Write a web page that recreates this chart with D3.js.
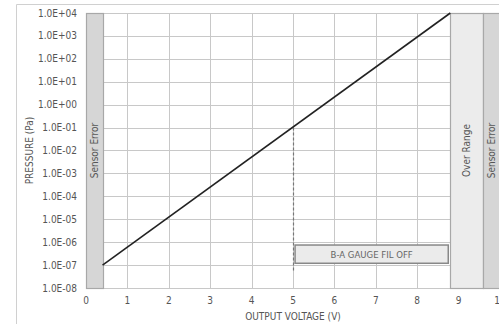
<!DOCTYPE html>
<html><head><meta charset="utf-8">
<script src="https://cdn.jsdelivr.net/npm/d3@7"></script>
<style>
html,body{margin:0;padding:0;background:#fff;}
svg{display:block;}
.nf{font-family:"Liberation Sans Narrow","DejaVu Sans Condensed","Arial Narrow",sans-serif;}
.bf{font-family:"DejaVu Sans Condensed","Liberation Sans Narrow",sans-serif;}
</style></head>
<body><svg id="c" width="499" height="324"></svg>
<script>
// ---- data ----
const yTicks = [1e4,1e3,1e2,1e1,1e0,1e-1,1e-2,1e-3,1e-4,1e-5,1e-6,1e-7,1e-8];
const yTickLabels = ["1.0E+04","1.0E+03","1.0E+02","1.0E+01","1.0E+00","1.0E-01","1.0E-02","1.0E-03","1.0E-04","1.0E-05","1.0E-06","1.0E-07","1.0E-08"];
const xTicks = [0,1,2,3,4,5,6,7,8,9,10];
const lineVolts = [0.4, 8.8];
const linePressure = [1e-7, 1e4];
const bandNames = ["Sensor Error","Over Range","Sensor Error"];
const bandStart = [0, 8.8, 9.6];
const bandEnd = [0.4, 9.6, 10];
const bandFill = ["#d6d6d6","#ececec","#d6d6d6"];
const markerVolt = 5;
const markerPressure = [1e-1, 5e-8];
const noteText = "B-A GAUGE FIL OFF";
const noteVolts = [5.05, 8.75];
const notePressure = [7.5e-7, 1.2e-7];

const svg = d3.select("#c");
const x = d3.scaleLinear().domain([0,10]).range([86, 500]);
const y = d3.scaleLog().domain([1e-8,1e4]).range([288, 13]);

// outer frame
svg.append("line").attr("x1",16.5).attr("x2",499).attr("y1",4.5).attr("y2",4.5).attr("stroke","#d0d0d0");
svg.append("line").attr("x1",16.5).attr("x2",16.5).attr("y1",4.5).attr("y2",324).attr("stroke","#d0d0d0");

// plot background
svg.append("rect").attr("x",x(0)).attr("y",y(1e4)).attr("width",x(10)-x(0)).attr("height",y(1e-8)-y(1e4)).attr("fill","#fff");

// grid
const g = svg.append("g");
g.selectAll(".hg").data(yTicks).enter().append("line")
  .attr("x1",x(0)).attr("x2",x(10)).attr("y1",d=>Math.round(y(d))+0.5).attr("y2",d=>Math.round(y(d))+0.5)
  .attr("stroke","#c8c8c8");
g.selectAll(".vg").data(xTicks).enter().append("line")
  .attr("x1",d=>Math.round(x(d))+0.5).attr("x2",d=>Math.round(x(d))+0.5).attr("y1",y(1e4)).attr("y2",y(1e-8))
  .attr("stroke","#c8c8c8");

// bands
const bands = bandNames.map((n,i)=>({n, s:bandStart[i], e:bandEnd[i], f:bandFill[i]}));
const bg = svg.selectAll(".band").data(bands).enter().append("g");
bg.append("rect").attr("x",d=>Math.round(x(d.s))+0.5).attr("y",Math.round(y(1e4))+0.5)
  .attr("width",d=>Math.round(x(d.e))-Math.round(x(d.s))).attr("height",Math.round(y(1e-8))-Math.round(y(1e4)))
  .attr("fill",d=>d.f).attr("stroke","#a8a8a8").attr("stroke-width",1.2);
bg.append("text").attr("class","bf")
  .attr("transform",d=>`translate(${(x(d.s)+Math.min(x(d.e),499))/2+3.5},${(y(1e4)+y(1e-8))/2}) rotate(-90)`)
  .attr("text-anchor","middle").attr("font-size",10).attr("fill","#555").text(d=>d.n);

// axes labels
svg.selectAll(".yl").data(yTicks).enter().append("text").attr("class","nf")
  .attr("x",77).attr("y",d=>y(d)+3.5).attr("text-anchor","end").attr("font-size",10).attr("fill","#555")
  .text((d,i)=>yTickLabels[i]);
svg.selectAll(".xl").data(xTicks).enter().append("text").attr("class","nf")
  .attr("x",d=>x(d)).attr("y",304).attr("text-anchor","middle").attr("font-size",10).attr("fill","#555")
  .text(d=>d);
svg.append("text").attr("class","nf").attr("x",x(5)).attr("y",320).attr("text-anchor","middle")
  .attr("font-size",10).attr("fill","#555").text("OUTPUT VOLTAGE (V)");
svg.append("text").attr("class","nf").attr("transform",`translate(33,${(y(1e4)+y(1e-8))/2}) rotate(-90)`)
  .attr("text-anchor","middle").attr("font-size",10).attr("fill","#555").text("PRESSURE (Pa)");

// marker dashed line
svg.append("line").attr("x1",Math.round(x(markerVolt))+0.5).attr("x2",Math.round(x(markerVolt))+0.5)
  .attr("y1",y(markerPressure[0])).attr("y2",y(markerPressure[1]))
  .attr("stroke","#777").attr("stroke-width",1.2).attr("stroke-dasharray","3,2");

// note box
svg.append("rect").attr("x",x(noteVolts[0])).attr("y",y(notePressure[0]))
  .attr("width",x(noteVolts[1])-x(noteVolts[0])).attr("height",y(notePressure[1])-y(notePressure[0]))
  .attr("fill","#ebebeb").attr("stroke","#888").attr("stroke-width",1.5);
svg.append("text").attr("class","nf").attr("x",(x(noteVolts[0])+x(noteVolts[1]))/2)
  .attr("y",(y(notePressure[0])+y(notePressure[1]))/2+3.5).attr("text-anchor","middle")
  .attr("font-size",9.5).attr("fill","#666").text(noteText);

// main line
const pts = lineVolts.map((v,i)=>[v, linePressure[i]]);
svg.append("path").datum(pts).attr("fill","none").attr("stroke","#222").attr("stroke-width",1.6)
  .attr("d", d3.line().x(d=>x(d[0])).y(d=>y(d[1])));
</script></body></html>
